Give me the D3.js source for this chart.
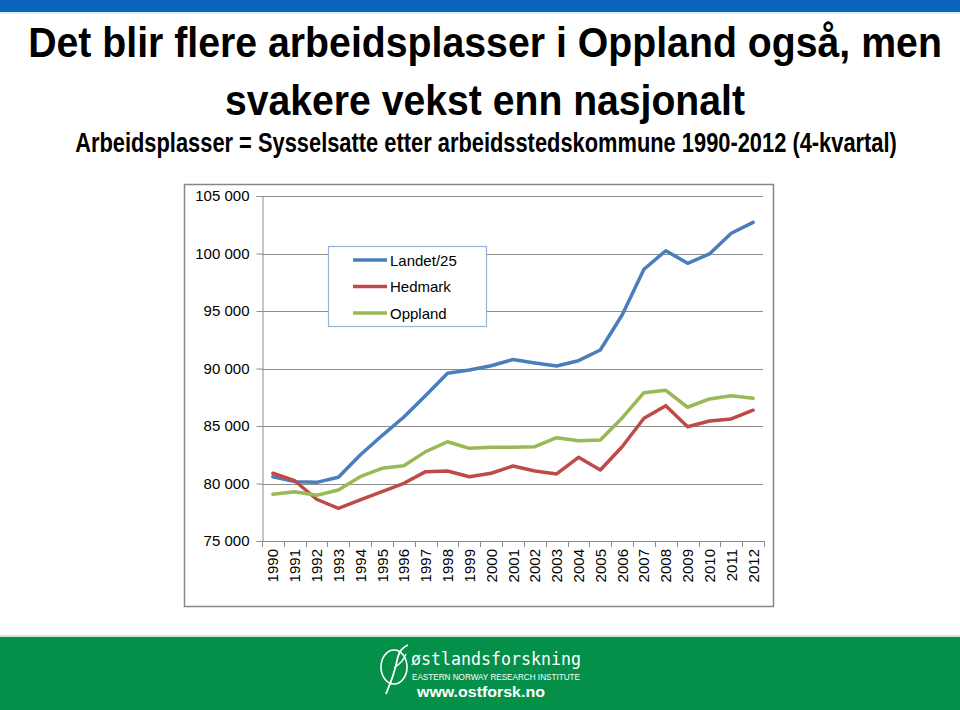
<!DOCTYPE html>
<html>
<head>
<meta charset="utf-8">
<script src="https://cdn.jsdelivr.net/npm/d3@7"></script>
<style>
  html, body { margin: 0; padding: 0; background: #ffffff; }
  svg { display: block; }
</style>
</head>
<body>
<svg id="chart" width="960" height="710"></svg>
<script>
// ---------- data ----------
const years = ["1990","1991","1992","1993","1994","1995","1996","1997","1998","1999","2000","2001","2002","2003","2004","2005","2006","2007","2008","2009","2010","2011","2012"];
const landet25 = [80590,80160,80100,80540,82480,84170,85780,87650,89580,89870,90240,90780,90480,90220,90680,91610,94650,98630,100240,99150,99960,101760,102710];
const hedmark  = [80890,80240,78630,77840,78570,79290,80020,81030,81090,80590,80890,81520,81090,80830,82280,81170,83200,85670,86770,84940,85430,85610,86370];
const oppland  = [79060,79290,78970,79430,80590,81320,81550,82770,83630,83060,83150,83150,83200,83980,83720,83780,85700,87900,88100,86630,87350,87630,87410];
const seriesNames = ["Landet/25","Hedmark","Oppland"];
const yTicks = [75000,80000,85000,90000,95000,100000,105000];
const titleLines = ["Det blir flere arbeidsplasser i Oppland også, men","svakere vekst enn nasjonalt"];
const subtitle = "Arbeidsplasser = Sysselsatte etter arbeidsstedskommune 1990-2012 (4-kvartal)";

const colors = ["#4A7EBB","#BE4B48","#98B954"];
const seriesData = [landet25, hedmark, oppland];

const svg = d3.select("#chart");

// helper: draw text and scale it horizontally to a target width via a transform
function fitText(parent, str, cxPos, yPos, width, attrs, anchor, allowStretch) {
  const t = parent.append("text").attr("x",0).attr("y",0)
    .attr("text-anchor", anchor || "middle").text(str);
  Object.entries(attrs).forEach(([k,v]) => t.attr(k,v));
  const w = t.node().getComputedTextLength();
  const sx = allowStretch ? width / w : Math.min(1, width / w);
  t.attr("transform", `translate(${cxPos},${yPos}) scale(${sx},1)`);
  return t;
}

// ---------- slide decorations ----------
svg.append("rect").attr("x",0).attr("y",0).attr("width",960).attr("height",12).attr("fill","#0A64BE");
svg.append("rect").attr("x",0).attr("y",12).attr("width",960).attr("height",2).attr("fill","#D8EEF6");

const narrow = "'Liberation Sans Narrow','Arial Narrow','Liberation Sans',Arial,sans-serif";
fitText(svg, titleLines[0], 485, 57, 914, {"font-family":narrow,"font-weight":"bold","font-size":43});
fitText(svg, titleLines[1], 485, 115, 520, {"font-family":narrow,"font-weight":"bold","font-size":43});
fitText(svg, subtitle, 486, 152, 822, {"font-family":narrow,"font-weight":"bold","font-size":28});

// footer
svg.append("rect").attr("x",0).attr("y",635).attr("width",960).attr("height",2).attr("fill","#CFE8D8");
svg.append("rect").attr("x",0).attr("y",637).attr("width",960).attr("height",73).attr("fill","#05904A");
const logo = svg.append("g");
logo.append("ellipse").attr("cx",394).attr("cy",667).attr("rx",13).attr("ry",17)
  .attr("fill","none").attr("stroke","#fff").attr("stroke-width",1.6);
logo.append("path").attr("d","M408,645 C396,650 398,662 394,672 C392,680 388,688 386,694")
  .attr("fill","none").attr("stroke","#fff").attr("stroke-width",1.8);
logo.append("path").attr("d","M394,668 C400,664 404,660 406,654")
  .attr("fill","none").attr("stroke","#fff").attr("stroke-width",1.4);
fitText(logo, "østlandsforskning", 411, 665, 170,
  {"fill":"#fff","font-family":"'DejaVu Sans Mono',monospace","font-size":17}, "start", true);
fitText(logo, "EASTERN NORWAY RESEARCH INSTITUTE", 412, 680, 168,
  {"fill":"#fff","font-family":narrow,"font-size":9}, "start", true);
fitText(logo, "www.ostforsk.no", 417, 697, 128,
  {"fill":"#fff","font-family":"'Liberation Sans',Arial,sans-serif","font-weight":"bold","font-size":14}, "start", true);

// ---------- chart ----------
svg.append("rect").attr("x",184.5).attr("y",184.5).attr("width",589).attr("height",422)
  .attr("fill","#fff").attr("stroke","#878787").attr("stroke-width",1.5);

const x = d3.scaleBand().domain(years).range([262,764]).padding(0);
const y = d3.scaleLinear().domain([75000,105000]).range([541,196]);
const cx = d => x(d) + x.bandwidth()/2;
const font = "'Liberation Sans',Arial,sans-serif";

// gridlines
svg.append("g").selectAll("line").data(yTicks.filter(t => t > 75000)).join("line")
  .attr("x1",262).attr("x2",763)
  .attr("y1",d => Math.round(y(d))+0.5).attr("y2",d => Math.round(y(d))+0.5)
  .attr("stroke","#8C8C8C").attr("stroke-width",1);

// y axis
const yAxis = svg.append("g").attr("transform","translate(262.5,0)")
  .call(d3.axisLeft(y).tickValues(yTicks).tickSize(6).tickPadding(7)
    .tickFormat(d => d3.format(",")(d).replace(",", " ")));
yAxis.select(".domain").attr("stroke","#8C8C8C");
yAxis.selectAll(".tick line").attr("stroke","#8C8C8C");
yAxis.selectAll(".tick text").attr("font-family",font).attr("font-size",15).attr("fill","#000");

// x axis
const xAxisG = svg.append("g");
xAxisG.append("line").attr("x1",262).attr("x2",764).attr("y1",541.5).attr("y2",541.5).attr("stroke","#8C8C8C");
const bounds = years.map(d => x(d)).concat([x(years[years.length-1]) + x.bandwidth()]);
xAxisG.selectAll("line.tk").data(bounds).join("line").attr("class","tk")
  .attr("x1",d => Math.round(d)+0.5).attr("x2",d => Math.round(d)+0.5)
  .attr("y1",541).attr("y2",547).attr("stroke","#8C8C8C");
xAxisG.selectAll("text").data(years).join("text")
  .attr("transform",d => `translate(${cx(d)},549) rotate(-90)`)
  .attr("text-anchor","end").attr("dominant-baseline","central")
  .attr("font-family",font).attr("font-size",15).attr("fill","#000")
  .text(d => d);

// lines
const line = d3.line().x((d,i) => cx(years[i])).y(d => y(d));
svg.append("g").selectAll("path").data(seriesData).join("path")
  .attr("d",d => line(d)).attr("fill","none")
  .attr("stroke",(d,i) => colors[i]).attr("stroke-width",3.5)
  .attr("stroke-linejoin","round").attr("stroke-linecap","round");

// legend
const lg = svg.append("g");
lg.append("rect").attr("x",328.5).attr("y",246.5).attr("width",158).attr("height",80)
  .attr("fill","#fff").attr("stroke","#95B3D7").attr("stroke-width",1.2);
const rows = lg.selectAll("g.row").data(seriesNames).join("g").attr("class","row")
  .attr("transform",(d,i) => `translate(0,${260 + i*26.5})`);
rows.append("line").attr("x1",353).attr("x2",387).attr("y1",0).attr("y2",0)
  .attr("stroke",(d,i) => colors[i]).attr("stroke-width",3.5);
rows.append("text").attr("x",390).attr("y",0).attr("dominant-baseline","central")
  .attr("font-family",font).attr("font-size",15).attr("fill","#000").text(d => d);
</script>
</body>
</html>
